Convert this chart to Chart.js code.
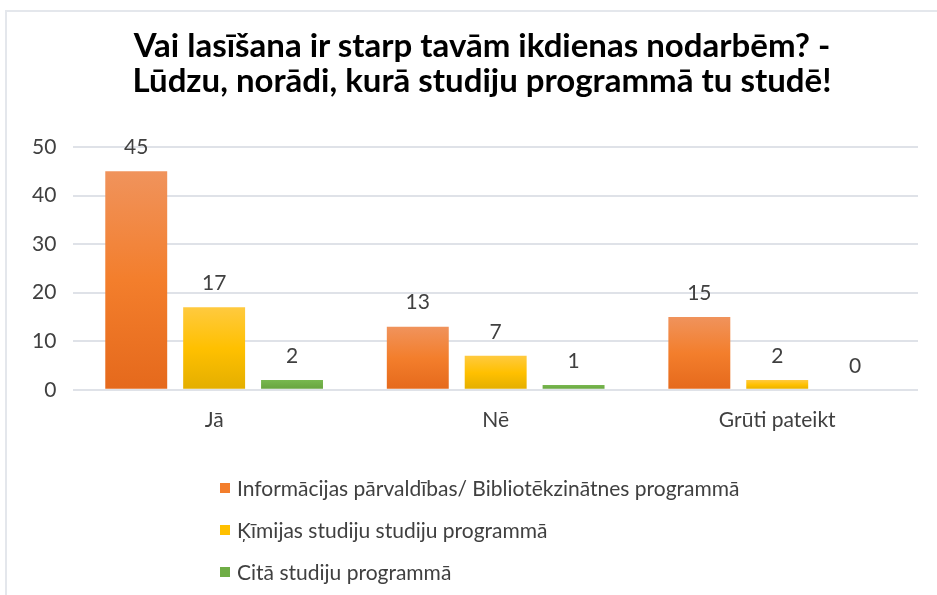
<!DOCTYPE html>
<html>
<head>
<meta charset="utf-8">
<script src="https://cdn.jsdelivr.net/npm/chart.js@4"></script>
<style>
    html, body { margin: 0; padding: 0; background: #fff; }
    body { width: 937px; height: 595px; position: relative; overflow: hidden; font-family: Lato, "Open Sans", sans-serif; }
    #frame { position: absolute; left: 5px; top: 10px; width: 960px; height: 620px; border: 2px solid #e4e7ec; box-sizing: border-box; }
    #wrap { position: absolute; left: 0; top: 0; width: 937px; height: 595px; }
    #title { position: absolute; left: 0; width: 964px; top: 27px; text-align: center; white-space: nowrap;
             font-size: 33px; font-weight: bold; line-height: 35px; color: #000; }
    #legend { position: absolute; left: 220px; top: 475px; color: #404040; font-size: 21px; }
    #legend .item { height: 42px; display: flex; align-items: flex-start; }
    #legend .box { width: 10px; height: 10px; margin: 8px 7px 0 0; }
</style>
</head>
<body>
<div id="frame"></div>
<div id="wrap"><canvas id="chart" width="937" height="595"></canvas></div>
<div id="title"></div>
<div id="legend"></div>
<script>
// data
const titleLines = [
    "Vai lasīšana ir starp tavām ikdienas nodarbēm? -",
    "Lūdzu, norādi, kurā studiju programmā tu studē!"
];
const categories = ["Jā", "Nē", "Grūti pateikt"];
const seriesNames = [
    "Informācijas pārvaldības/ Bibliotēkzinātnes programmā",
    "Ķīmijas studiju studiju programmā",
    "Citā studiju programmā"
];
const infoValues = [45, 13, 15];
const chemValues = [17, 7, 2];
const otherValues = [2, 1, 0];
const yTicks = [0, 10, 20, 30, 40, 50];

// top / middle / bottom colours of each bar gradient
const palettes = [
    ["#f0935c", "#f37e2c", "#e5691c"],
    ["#ffca3f", "#ffc000", "#e3ae00"],
    ["#78b84f", "#6fad46", "#66a33f"]
];

function barGradient(idx) {
    return (ctx) => {
        const chart = ctx.chart;
        const y = chart.scales.y;
        if (!y || ctx.raw === undefined) return palettes[idx][1];
        const top = y.getPixelForValue(ctx.raw);
        const bottom = y.getPixelForValue(0);
        if (!isFinite(top) || bottom - top < 1) return palettes[idx][1];
        const g = chart.ctx.createLinearGradient(0, top, 0, bottom);
        g.addColorStop(0, palettes[idx][0]);
        g.addColorStop(0.5, palettes[idx][1]);
        g.addColorStop(1, palettes[idx][2]);
        return g;
    };
}

// value labels above the bars
const valueLabels = {
    id: "valueLabels",
    afterDatasetsDraw(chart) {
        const ctx = chart.ctx;
        ctx.save();
        ctx.font = "21px Lato";
        ctx.fillStyle = "#404040";
        ctx.textAlign = "center";
        ctx.textBaseline = "middle";
        chart.data.datasets.forEach((ds, i) => {
            chart.getDatasetMeta(i).data.forEach((bar, j) => {
                ctx.fillText(ds.data[j], bar.x, bar.y - 24);
            });
        });
        ctx.restore();
    }
};

const allValues = [infoValues, chemValues, otherValues];

const chartCtx = document.getElementById("chart").getContext("2d");
const chart = new Chart(chartCtx, {
    type: "bar",
    data: {
        labels: categories,
        datasets: allValues.map((vals, i) => ({
            label: seriesNames[i],
            data: vals,
            backgroundColor: barGradient(i),
            borderWidth: 0,
            categoryPercentage: 0.83,
            barPercentage: 0.795,
        })),
    },
    options: {
        responsive: false,
        animation: false,
        layout: { padding: { left: 15, right: 19, top: 147, bottom: 152 } },
        plugins: {
            legend: { display: false },
            tooltip: { enabled: false },
            title: { display: false },
        },
        scales: {
            x: {
                grid: { display: false },
                border: { display: false },
                ticks: { color: "#404040", font: { family: "Lato", size: 21 }, padding: 10 },
            },
            y: {
                min: 0,
                max: 50,
                afterBuildTicks: (axis) => { axis.ticks = yTicks.map((v) => ({ value: v })); },
                grid: { color: "#dfe2e8", lineWidth: 2, drawTicks: false },
                border: { display: false },
                ticks: { color: "#404040", font: { family: "Lato", size: 21 }, padding: 17 },
            },
        },
    },
    plugins: [valueLabels],
});

// title, two centred lines
const title = document.getElementById("title");
titleLines.forEach((line) => {
    const row = document.createElement("div");
    row.textContent = line;
    title.appendChild(row);
});

// legend, one item per row
const legend = document.getElementById("legend");
seriesNames.forEach((name, i) => {
    const item = document.createElement("div");
    item.className = "item";
    const box = document.createElement("span");
    box.className = "box";
    box.style.background = palettes[i][1];
    const text = document.createElement("span");
    text.textContent = name;
    item.appendChild(box);
    item.appendChild(text);
    legend.appendChild(item);
});
</script>
</body>
</html>
